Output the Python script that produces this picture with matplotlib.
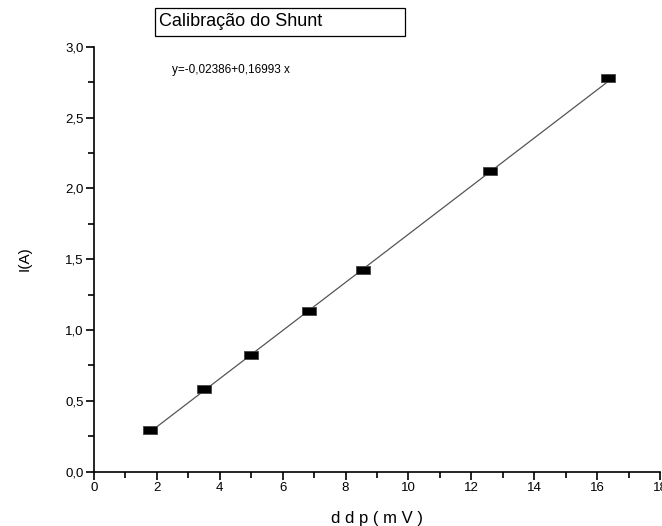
import matplotlib
matplotlib.use("Agg")
import matplotlib.pyplot as plt
from matplotlib.ticker import FuncFormatter, MultipleLocator
from matplotlib.patches import Rectangle

ddp = [1.77, 3.51, 5.0, 6.83, 8.57, 12.59, 16.36]
corrente = [0.29, 0.583, 0.825, 1.13, 1.42, 2.12, 2.78]
intercept = -0.02386
slope = 0.16993
title = "Calibração do Shunt"
equation = "y=-0,02386+0,16993 x"
xlabel = "d d p ( m V )"
ylabel = "I(A)"

plt.rcParams['font.family'] = ['Liberation Sans', 'DejaVu Sans']

fig = plt.figure(figsize=(6.62, 5.26), dpi=100)
ax = fig.add_axes([94/662, 1-471.5/526, (660-94)/662, (471.5-46.7)/526])

x_fit = [ddp[0], ddp[-1]]
y_fit = [intercept + slope*v for v in x_fit]
ax.plot(x_fit, y_fit, color='#555555', lw=0.9, zorder=2)

rect_marker = [(-1, -0.55), (1, -0.55), (1, 0.55), (-1, 0.55), (-1, -0.55)]
ax.plot(ddp, corrente, linestyle='none', marker=rect_marker, markersize=10.5,
        markerfacecolor='black', markeredgecolor='#444444', markeredgewidth=0.6, zorder=3)

ax.set_xlim(0, 18)
ax.set_ylim(0, 3.0)
ax.xaxis.set_major_locator(MultipleLocator(2))
ax.xaxis.set_minor_locator(MultipleLocator(1))
ax.yaxis.set_major_locator(MultipleLocator(0.5))
ax.yaxis.set_minor_locator(MultipleLocator(0.25))
ax.yaxis.set_major_formatter(FuncFormatter(lambda v, p: f"{v:.1f}".replace('.', ',')))
ax.xaxis.set_major_formatter(FuncFormatter(lambda v, p: f"{v:.0f}"))

for s in ['top', 'right']:
    ax.spines[s].set_visible(False)
for s in ['left', 'bottom']:
    ax.spines[s].set_linewidth(1.2)
ax.tick_params(which='major', direction='out', length=5.5, width=1.2, labelsize=9.5, pad=2)
ax.tick_params(which='minor', direction='out', length=4.5, width=1.2)

ax.set_xlabel(xlabel, fontsize=12, labelpad=12)
ax.set_ylabel(ylabel, fontsize=11, labelpad=24)

ax.text(172/662, 1-70/526, equation, transform=fig.transFigure, fontsize=8.5,
        va='center', ha='left')

fig.patches.append(Rectangle((155/662, 1-36/526), (405-155)/662, 28/526,
                             transform=fig.transFigure, fill=False,
                             edgecolor='black', lw=0.9))
fig.text(159/662, 1-22/526, title, fontsize=13, va='center', ha='left')

fig.savefig("out.png", dpi=100)
